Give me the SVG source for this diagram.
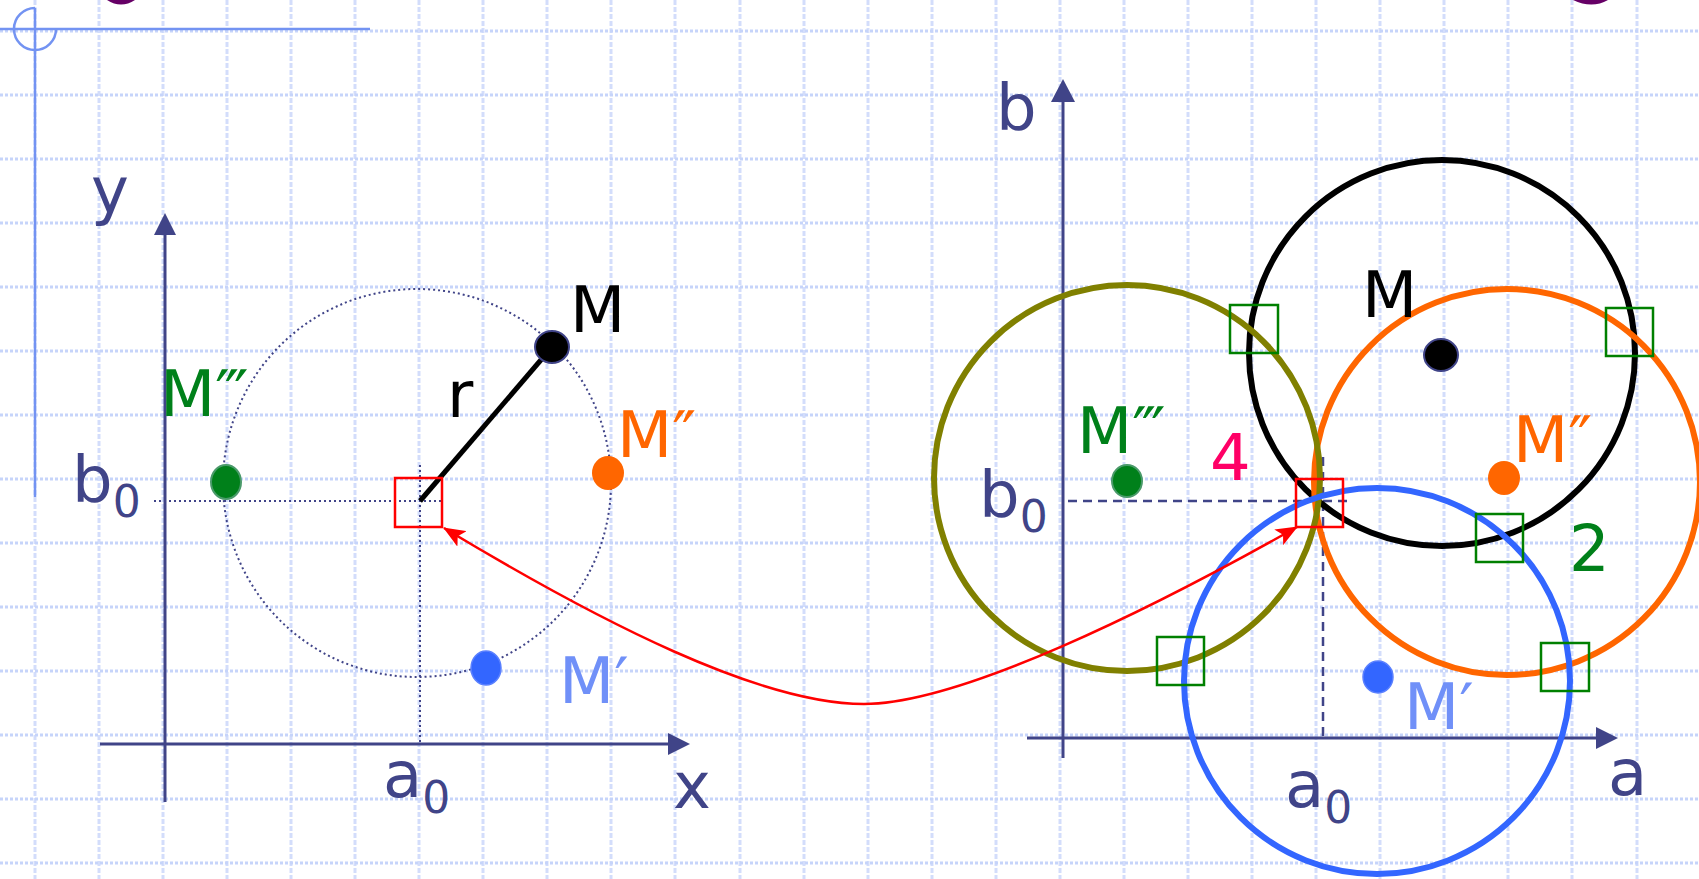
<svg xmlns="http://www.w3.org/2000/svg" width="1699" height="879" viewBox="0 0 1699 879">
<style>
.gh{stroke:#c6d4fa;stroke-width:3;stroke-dasharray:3 2;fill:none}
.gv{stroke:#d3ddfb;stroke-width:3;stroke-dasharray:5 2;fill:none}
.axis{stroke:#404488;stroke-width:3;fill:none}
.ahead{fill:#404488}
.dot{stroke:#404488;stroke-width:2;stroke-dasharray:2 3;fill:none}
.dash{stroke:#404488;stroke-width:2.5;stroke-dasharray:9 6;fill:none}
.ring{fill:none;stroke-width:6}
.gsq{fill:none;stroke:#008000;stroke-width:2.5}
.rsq{fill:none;stroke:#ff0000;stroke-width:2.5}
text{font-family:"DejaVu Sans","Verdana",sans-serif;font-size:64px}
.sub{font-size:44px}
.ax{fill:#404488}
.g{fill:#00801a}
.o{fill:#ff6600}
.lb{fill:#7090f8}
.k{fill:#000}
</style>
<defs>
<marker id="rarrow" viewBox="0 0 22 18" refX="21" refY="9" markerWidth="22" markerHeight="18" markerUnits="userSpaceOnUse" orient="auto-start-reverse">
<path d="M0,0 L22,9 L0,18 L5,9 z" fill="#ff0000"/>
</marker>
</defs>
<rect width="1699" height="879" fill="#ffffff"/>
<g id="grid">
<path class="gv" d="M35,0V879M99,0V879M163,0V879M227,0V879M291,0V879M355,0V879M419,0V879M483,0V879M547,0V879M611,0V879M675,0V879M740,0V879M804,0V879M868,0V879M932,0V879M996,0V879M1060,0V879M1124,0V879M1188,0V879M1252,0V879M1316,0V879M1380,0V879M1444,0V879M1508,0V879M1572,0V879M1637,0V879"/>
<path class="gh" d="M0,31H1699M0,95H1699M0,159H1699M0,223H1699M0,287H1699M0,351H1699M0,415H1699M0,479H1699M0,543H1699M0,607H1699M0,671H1699M0,735H1699M0,799H1699M0,863H1699"/>
</g>
<g id="frame">
<path d="M0,29H370M35,8V497" stroke="#7393f2" stroke-width="2.5" fill="none"/>
<path d="M35,8 A21,21 0 1,0 56,29" stroke="#7393f2" stroke-width="2.5" fill="none"/>
<path d="M107,0 Q121,9 135,0 Z" fill="#660066"/>
<path d="M1573,0 Q1592,9 1608,0 Z" fill="#660066"/>
</g>
<g id="left-axes">
<path class="axis" d="M165,232V802M100,744H670"/>
<polygon class="ahead" points="165,213 176,235 154,235"/>
<polygon class="ahead" points="690,744 668,733 668,755"/>
<text class="ax" x="91" y="213">y</text>
<text class="ax" x="673" y="808">x</text>
<text class="ax" x="383" y="797">a<tspan class="sub" dy="16">0</tspan></text>
<text class="ax" x="72" y="502">b<tspan class="sub" dy="15">0</tspan></text>
</g>
<g id="left-circle">
<circle class="dot" cx="417" cy="483" r="194"/>
<path class="dot" d="M154,501H442M420,465V742"/>
<line x1="420" y1="501" x2="552" y2="347" stroke="#000" stroke-width="5"/>
<rect class="rsq" x="395" y="478" width="47" height="49"/>
<text class="k" x="447" y="417">r</text>
</g>
<g id="left-M">
<ellipse cx="552" cy="347" rx="17" ry="16" fill="#000" stroke="#404488" stroke-width="2"/>
<text class="k" x="570" y="332">M</text>
</g>
<g id="left-M2">
<ellipse cx="608" cy="473" rx="16" ry="17" fill="#ff6600"/>
<text class="o" x="617" y="457">M″</text>
</g>
<g id="left-M3">
<ellipse cx="226" cy="482" rx="15" ry="17" fill="#00801a" stroke="#4a9a6a" stroke-width="2"/>
<text class="g" x="160" y="416">M‴</text>
</g>
<g id="left-M1">
<ellipse cx="486" cy="668" rx="15" ry="17" fill="#3366ff" stroke="#5a80ff" stroke-width="1.5"/>
<text class="lb" x="559" y="703">M′</text>
</g>
<g id="right-axes">
<path class="axis" d="M1063,100V758M1027,738H1598"/>
<polygon class="ahead" points="1063,79 1075,102 1051,102"/>
<polygon class="ahead" points="1618,738 1596,727 1596,749"/>
<text class="ax" x="996" y="130">b</text>
<text class="ax" x="1608" y="795">a</text>
<text class="ax" x="1285" y="807">a<tspan class="sub" dy="16">0</tspan></text>
<text class="ax" x="979" y="517">b<tspan class="sub" dy="15">0</tspan></text>
<path class="dash" d="M1068,501H1347M1323,457V737"/>
</g>
<g id="right-circles">
<circle class="ring" cx="1442" cy="353" r="193" stroke="#000000"/>
<circle class="ring" cx="1507" cy="482" r="193" stroke="#ff6600"/>
<circle class="ring" cx="1127" cy="478" r="193" stroke="#808000"/>
<circle class="ring" cx="1377" cy="681" r="193" stroke="#3366ff"/>
</g>
<g id="right-M">
<ellipse cx="1441" cy="355" rx="17" ry="16" fill="#000" stroke="#404488" stroke-width="2"/>
<text class="k" x="1362" y="317">M</text>
</g>
<g id="right-M2">
<ellipse cx="1504" cy="478" rx="16" ry="17" fill="#ff6600"/>
<text class="o" x="1513" y="462">M″</text>
</g>
<g id="right-M3">
<ellipse cx="1127" cy="481" rx="15" ry="16" fill="#00801a" stroke="#4a9a6a" stroke-width="2"/>
<text class="g" x="1077" y="453">M‴</text>
</g>
<g id="right-M1">
<ellipse cx="1378" cy="677" rx="15" ry="16" fill="#3366ff" stroke="#5a80ff" stroke-width="1.5"/>
<text class="lb" x="1404" y="729">M′</text>
</g>
<g id="intersections">
<rect class="gsq" x="1230" y="305" width="48" height="48"/>
<rect class="gsq" x="1157" y="637" width="47" height="48"/>
<rect class="gsq" x="1606" y="308" width="47" height="48"/>
<rect class="gsq" x="1476" y="514" width="47" height="48"/>
<rect class="gsq" x="1541" y="643" width="48" height="48"/>
<rect class="rsq" x="1296" y="479" width="47" height="48"/>
<text x="1210" y="480" fill="#ff0066">4</text>
<text class="g" x="1569" y="571">2</text>
</g>
<g id="connectors">
<path d="M444,528 C600,622 760,704 864,704 C960,704 1150,610 1297,527" fill="none" stroke="#ff0000" stroke-width="2.5" marker-start="url(#rarrow)" marker-end="url(#rarrow)"/>
</g>
</svg>
